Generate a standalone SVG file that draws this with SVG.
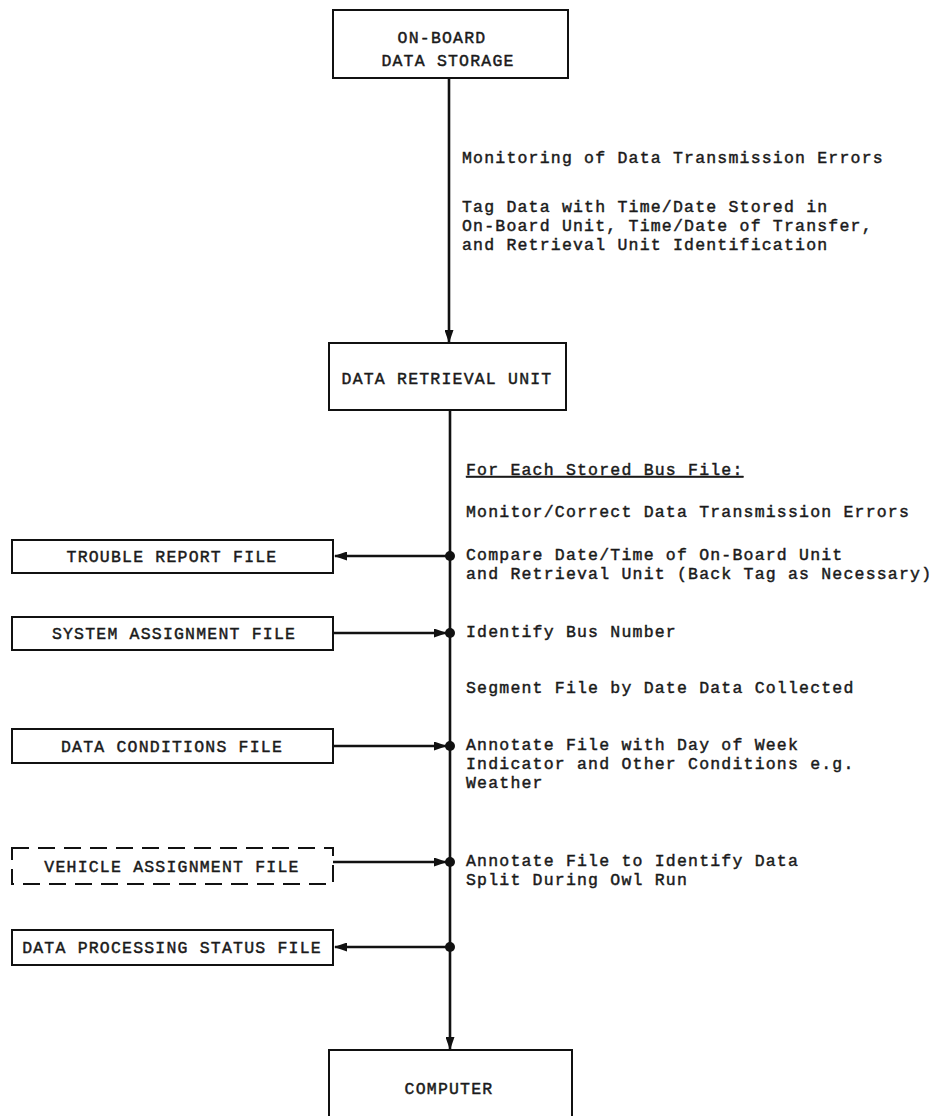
<svg xmlns="http://www.w3.org/2000/svg" width="939" height="1116" viewBox="0 0 939 1116">
<style>
  text { font-family: "Liberation Mono", "Courier New", monospace; font-size: 16.5px; letter-spacing: 1.2px; fill: #1a1a1a; stroke: #1a1a1a; stroke-width: 0.45px; }
  .box { fill: #fff; stroke: #111; stroke-width: 2; }
  .dash { fill: none; stroke: #111; stroke-width: 2; stroke-dasharray: 17 9; }
  .ln { fill: none; stroke: #111; stroke-width: 2.6; }
  .dot { fill: #111; }
  .c { text-anchor: middle; }
</style>
<defs>
  <marker id="ah" viewBox="0 0 13 9" refX="12" refY="4.5" markerWidth="13" markerHeight="9" markerUnits="userSpaceOnUse" orient="auto">
    <path d="M0,0 L13,4.5 L0,9 Z" fill="#111"/>
  </marker>
</defs>
<rect width="939" height="1116" fill="#fff"/>

<g id="connectors">
  <line class="ln" x1="449" y1="78" x2="449" y2="342" marker-end="url(#ah)"/>
  <line class="ln" x1="450" y1="410" x2="450" y2="1049" marker-end="url(#ah)"/>
  <line class="ln" x1="450" y1="556" x2="335" y2="556" marker-end="url(#ah)"/>
  <line class="ln" x1="333" y1="633" x2="446" y2="633" marker-end="url(#ah)"/>
  <line class="ln" x1="333" y1="746" x2="446" y2="746" marker-end="url(#ah)"/>
  <line class="ln" x1="333" y1="862" x2="446" y2="862" marker-end="url(#ah)"/>
  <line class="ln" x1="450" y1="947" x2="335" y2="947" marker-end="url(#ah)"/>
  <circle class="dot" cx="450" cy="556" r="5"/>
  <circle class="dot" cx="450" cy="633" r="5"/>
  <circle class="dot" cx="450" cy="746" r="5"/>
  <circle class="dot" cx="450" cy="862" r="5"/>
  <circle class="dot" cx="450" cy="947" r="5"/>
</g>

<g id="labels">
  <text x="462" y="163">Monitoring of Data Transmission Errors</text>
  <text x="462" y="212">Tag Data with Time/Date Stored in</text>
  <text x="462" y="231">On-Board Unit, Time/Date of Transfer,</text>
  <text x="462" y="250">and Retrieval Unit Identification</text>
  <text x="466" y="475" text-decoration="underline">For Each Stored Bus File:</text>
  <text x="466" y="517">Monitor/Correct Data Transmission Errors</text>
  <text x="466" y="560">Compare Date/Time of On-Board Unit</text>
  <text x="466" y="579">and Retrieval Unit (Back Tag as Necessary)</text>
  <text x="466" y="637">Identify Bus Number</text>
  <text x="466" y="693">Segment File by Date Data Collected</text>
  <text x="466" y="750">Annotate File with Day of Week</text>
  <text x="466" y="769">Indicator and Other Conditions e.g.</text>
  <text x="466" y="788">Weather</text>
  <text x="466" y="866">Annotate File to Identify Data</text>
  <text x="466" y="885">Split During Owl Run</text>
</g>

<g id="onboard">
  <rect class="box" x="333" y="10" width="235" height="68"/>
  <text class="c" x="442" y="43">ON-BOARD</text>
  <text class="c" x="448" y="66">DATA STORAGE</text>
</g>

<g id="retrieval">
  <rect class="box" x="329" y="343" width="237" height="67"/>
  <text class="c" x="447" y="384">DATA RETRIEVAL UNIT</text>
</g>

<g id="trouble">
  <rect class="box" x="12" y="540" width="321" height="33"/>
  <text class="c" x="172" y="562">TROUBLE REPORT FILE</text>
</g>

<g id="system">
  <rect class="box" x="12" y="617" width="321" height="33"/>
  <text class="c" x="174" y="639">SYSTEM ASSIGNMENT FILE</text>
</g>

<g id="conditions">
  <rect class="box" x="12" y="729" width="321" height="34"/>
  <text class="c" x="172" y="752">DATA CONDITIONS FILE</text>
</g>

<g id="vehicle">
  <rect class="dash" x="12" y="848" width="321" height="36"/>
  <text class="c" x="172" y="872">VEHICLE ASSIGNMENT FILE</text>
</g>

<g id="status">
  <rect class="box" x="12" y="930" width="321" height="35"/>
  <text class="c" x="172" y="953">DATA PROCESSING STATUS FILE</text>
</g>

<g id="computer">
  <rect class="box" x="329" y="1050" width="243" height="80"/>
  <text class="c" x="449" y="1094">COMPUTER</text>
</g>
</svg>
